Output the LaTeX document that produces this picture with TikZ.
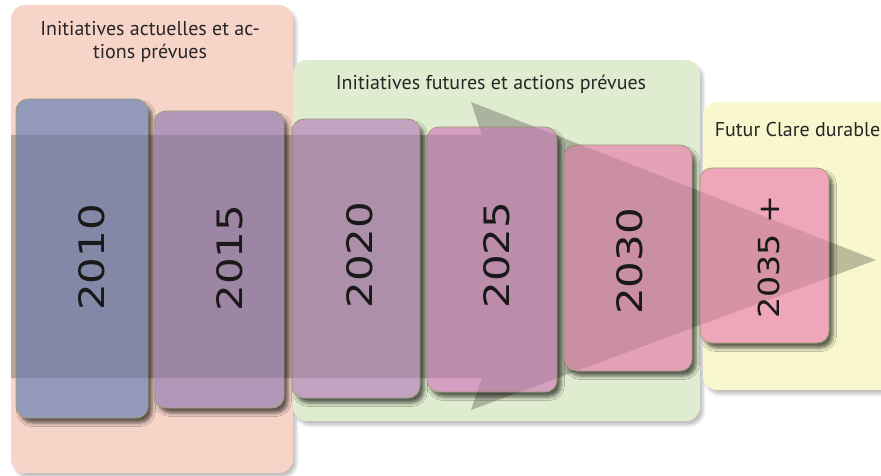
\documentclass[tikz,border=0pt]{standalone}
\usepackage{fontspec}
\setmainfont{PT Sans}
\newfontfamily\yearfont{DejaVu Sans}
\usetikzlibrary{shadows.blur}
\definecolor{pSalmon}{RGB}{246,213,200}
\definecolor{pGreen}{RGB}{224,236,207}
\definecolor{pYellow}{RGB}{248,247,205}
\definecolor{cA}{RGB}{147,153,186}
\definecolor{cB}{RGB}{177,151,184}
\definecolor{cC}{RGB}{195,161,192}
\definecolor{cD}{RGB}{212,159,192}
\definecolor{cE}{RGB}{229,161,182}
\definecolor{cF}{RGB}{240,166,186}
\definecolor{boxline}{RGB}{160,160,118}
\definecolor{boxshadow}{RGB}{80,95,60}
\definecolor{panelshadow}{RGB}{120,120,140}
\newcommand{\yearwide}[1]{\scalebox{1.2}[1]{#1}}
\tikzset{
  panel/.style={rounded corners=14pt, blur shadow={shadow xshift=3pt, shadow yshift=-4pt, shadow blur radius=3pt, shadow opacity=25, fill=panelshadow}},
  yearbox/.style={rectangle, rounded corners=12pt, draw=boxline, line width=0.8pt, inner sep=0pt,
    blur shadow={shadow xshift=4pt, shadow yshift=-5pt, shadow blur radius=3.5pt, shadow opacity=60, fill=boxshadow}},
  yeartext/.style={rotate=90, inner sep=0pt, text=black!90, font=\yearfont\fontsize{35}{40}\selectfont},
  title/.style={inner sep=0pt, text=black!85, font=\fontsize{20}{23}\selectfont, align=center},
  arrowshape/.style={fill=black}
}
\begin{document}
\begin{tikzpicture}[x=1pt,y=-1pt]
\useasboundingbox (0,0) rectangle (881,476);
\clip (0,0) rectangle (881,476);
% panels
\fill[panel, pSalmon] (11,5) rectangle (293,473);
\fill[panel, pGreen] (293,60) rectangle (700,421);
\fill[panel, pYellow] (703,102) rectangle (910,390);
% arrow (over panels)
\fill[arrowshape, fill opacity=0.24] (11,135) -- (482,135) -- (471,102) -- (876,260) -- (471,410) -- (482,378) -- (11,378) -- cycle;
% year boxes
\node[yearbox, fill=cA, minimum width=132pt, minimum height=319pt] (b2010) at (82,258.5) {};
\node[yearbox, fill=cB, minimum width=130pt, minimum height=297pt] (b2015) at (219,259.5) {};
\node[yearbox, fill=cC, minimum width=128pt, minimum height=279pt] (b2020) at (356,258.5) {};
\node[yearbox, fill=cD, minimum width=130pt, minimum height=265pt] (b2025) at (492,259.5) {};
\node[yearbox, fill=cE, minimum width=128pt, minimum height=226pt] (b2030) at (628,258) {};
\node[yearbox, fill=cF, minimum width=129pt, minimum height=175pt] (b2035) at (764.5,255.5) {};
% arrow seen through the boxes
\begin{scope}
\clip[rounded corners=12pt]
  (b2010.south west) rectangle (b2010.north east)
  (b2015.south west) rectangle (b2015.north east)
  (b2020.south west) rectangle (b2020.north east)
  (b2025.south west) rectangle (b2025.north east)
  (b2030.south west) rectangle (b2030.north east)
  (b2035.south west) rectangle (b2035.north east);
\fill[arrowshape, fill opacity=0.11] (11,135) -- (482,135) -- (471,102) -- (876,260) -- (471,410) -- (482,378) -- (11,378) -- cycle;
\end{scope}
% year labels
\node[yeartext] (t2010) at (92,257.5) {\yearwide{2010}};
\node[yeartext] (t2015) at (229.5,258) {\yearwide{2015}};
\node[yeartext] (t2020) at (360,255) {\yearwide{2020}};
\node[yeartext] (t2025) at (497,255) {\yearwide{2025}};
\node[yeartext] (t2030) at (630,261.5) {\yearwide{2030}};
\node[yeartext, font=\yearfont\fontsize{29}{34}\selectfont] (t2035) at (768.5,257) {\scalebox{1.15}[1]{2035 +}};
% titles
\node[title] (h1) at (150,41.5) {Initiatives actuelles et ac-\\tions prévues};
\node[title] (h2) at (491,84) {Initiatives futures et actions prévues};
\node[title] (h3) at (797.5,130) {Futur Clare durable};
\end{tikzpicture}
\end{document}
